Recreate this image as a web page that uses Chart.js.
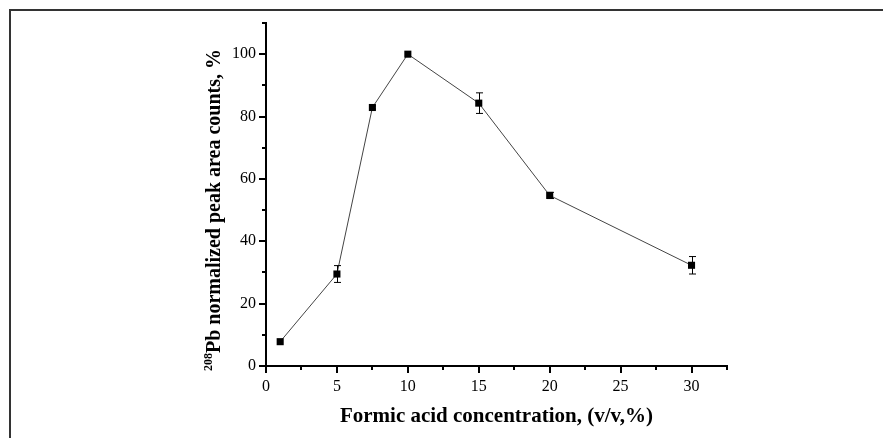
<!DOCTYPE html>
<html>
<head>
<meta charset="utf-8">
<title>Formic acid concentration</title>
<script src="https://cdn.jsdelivr.net/npm/chart.js@4.4.0/dist/chart.umd.min.js"></script>
<style>
  html, body { margin: 0; padding: 0; background: #fff; overflow: hidden; }
  .wrap { position: relative; width: 883px; height: 438px; }
  .frame { position: absolute; left: 9px; top: 9px; right: -20px; bottom: -20px;
           border: 2px solid #333; pointer-events: none; }
  canvas { position: absolute; left: 0; top: 0; }
</style>
</head>
<body>
<div class="wrap">
  <canvas id="chart" width="883" height="438"></canvas>
  <div class="frame"></div>
</div>
<script>
// formic acid concentration (v/v, %) and normalized 208Pb peak area (%)
const concentration = [1, 5, 7.5, 10, 15, 20, 30];
const peakArea      = [7.8, 29.5, 82.9, 100, 84.3, 54.7, 32.3];
const peakError     = [0, 2.7, 0.5, 0, 3.3, 1.0, 2.8];

const xTitle = 'Formic acid concentration, (v/v,%)';
const yTitleSup = '208';
const yTitle = 'Pb normalized peak area counts, %';

const serif = '"Liberation Serif", "Times New Roman", serif';

// tick marks (long on labelled ticks, short in between), error bars and axis titles
const extras = {
  id: 'extras',
  afterDatasetsDraw(chart) {
    const { ctx, scales: { x, y } } = chart;
    ctx.save();
    ctx.strokeStyle = '#000';
    ctx.lineWidth = 1;
    peakError.forEach((e, i) => {
      if (!e) return;
      const px = Math.round(x.getPixelForValue(concentration[i])) + 0.5;
      const top = y.getPixelForValue(peakArea[i] + e);
      const bot = y.getPixelForValue(peakArea[i] - e);
      ctx.beginPath();
      ctx.moveTo(px, top); ctx.lineTo(px, bot);
      ctx.moveTo(px - 3.5, top); ctx.lineTo(px + 3.5, top);
      ctx.moveTo(px - 3.5, bot); ctx.lineTo(px + 3.5, bot);
      ctx.stroke();
    });
    ctx.restore();
  },
  afterDraw(chart) {
    const { ctx, chartArea: a, scales: { x, y } } = chart;
    ctx.save();
    ctx.strokeStyle = '#000';
    ctx.lineWidth = 2;
    ctx.beginPath();
    x.ticks.forEach(t => {
      const px = Math.round(x.getPixelForValue(t.value));
      const len = t.value % 5 === 0 ? 7 : 4;
      ctx.moveTo(px, a.bottom); ctx.lineTo(px, a.bottom + len);
    });
    y.ticks.forEach(t => {
      const py = Math.round(y.getPixelForValue(t.value));
      const len = t.value % 20 === 0 ? 7 : 4;
      ctx.moveTo(a.left, py); ctx.lineTo(a.left - len, py);
    });
    ctx.stroke();

    ctx.fillStyle = '#000';
    ctx.font = 'bold 21px ' + serif;
    ctx.textAlign = 'center';
    ctx.textBaseline = 'middle';
    ctx.fillText(xTitle, (a.left + a.right) / 2, 417);

    // rotated y title with superscript isotope mass
    ctx.translate(214, 210);
    ctx.rotate(-Math.PI / 2);
    ctx.font = 'bold 12px ' + serif;
    const wSup = ctx.measureText(yTitleSup).width;
    ctx.font = 'bold 20px ' + serif;
    const wMain = ctx.measureText(yTitle).width;
    const start = -(wSup + wMain) / 2;
    ctx.textAlign = 'left';
    ctx.textBaseline = 'alphabetic';
    ctx.fillText(yTitle, start + wSup, 6);
    ctx.font = 'bold 12px ' + serif;
    ctx.fillText(yTitleSup, start, -2);
    ctx.restore();
  }
};

new Chart(document.getElementById('chart'), {
  type: 'line',
  data: {
    datasets: [{
      data: concentration.map((c, i) => ({ x: c, y: peakArea[i] })),
      borderColor: '#444',
      borderWidth: 1,
      pointStyle: 'rect',
      pointRadius: 5,
      pointBackgroundColor: '#000',
      pointBorderColor: '#000',
      pointBorderWidth: 0,
      tension: 0
    }]
  },
  options: {
    responsive: false,
    animation: false,
    events: [],
    layout: { padding: { left: 0, top: 23, right: 156, bottom: 0 } },
    plugins: { legend: { display: false }, tooltip: { enabled: false } },
    scales: {
      x: {
        type: 'linear',
        min: 0, max: 32.5,
        afterFit: s => { s.height = 72; },
        grid: { display: false, drawTicks: false },
        border: { display: true, color: '#000', width: 2 },
        ticks: {
          stepSize: 2.5,
          autoSkip: false,
          maxRotation: 0,
          padding: 11,
          color: '#000',
          font: { family: serif, size: 16 },
          callback: v => (v % 5 === 0 ? String(v) : '')
        }
      },
      y: {
        min: 0, max: 110,
        afterFit: s => { s.width = 266; },
        grid: { display: false, drawTicks: false },
        border: { display: true, color: '#000', width: 2 },
        ticks: {
          stepSize: 10,
          autoSkip: false,
          padding: 10,
          color: '#000',
          font: { family: serif, size: 16 },
          callback: v => (v % 20 === 0 ? String(v) : '')
        }
      }
    }
  },
  plugins: [extras]
});
</script>
</body>
</html>
